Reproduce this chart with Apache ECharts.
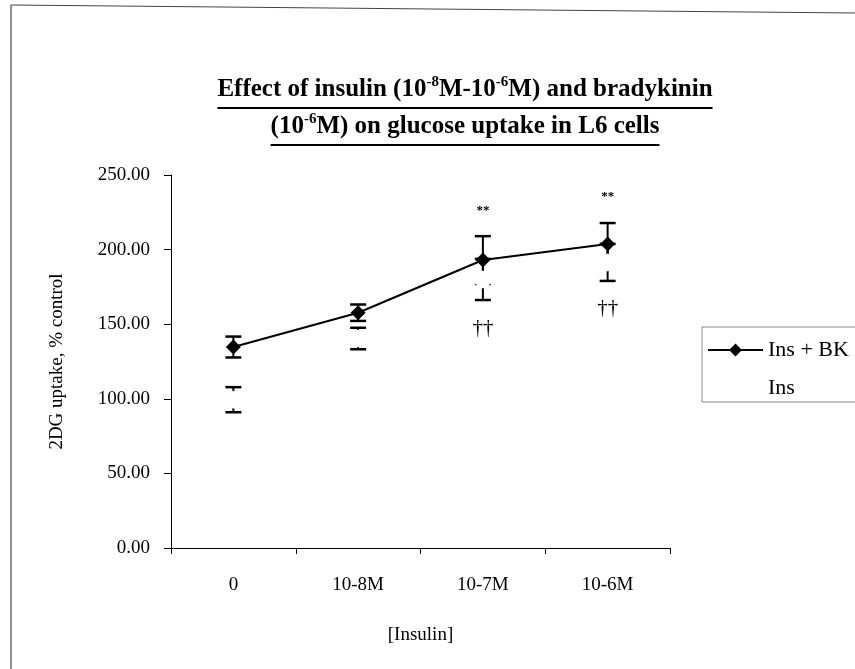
<!DOCTYPE html>
<html>
<head>
<meta charset="utf-8">
<script src="https://cdn.jsdelivr.net/npm/echarts@6/dist/echarts.min.js"></script>
<style>
  html, body { margin: 0; padding: 0; background: #fff; }
  #chart { width: 855px; height: 669px; }
</style>
</head>
<body>
<div id="chart"></div>
<script>
// Insulin concentrations on the category axis
const categories = ['0', '10-8M', '10-7M', '10-6M'];
// Insulin + bradykinin: mean 2DG uptake (% control) and error
const insBk = [134.7, 157.7, 193.0, 203.8];
const insBkErr = [7.0, 5.5, 16.0, 14.0];
// Insulin alone: mean and error
const ins = [99.4, 140.4, 180.0, 191.4];
const insErr = [8.4, 7.2, 13.8, 12.4];
// Significance marks
const insBkMarks = ['', '', '**', '**'];
const insMarks = ['', '', '††', '††'];

const SERIF = '"Liberation Serif", "Times New Roman", serif';

function errorItems(means, errs) {
  return means.map((m, i) => [i, m - errs[i], m + errs[i]]);
}

function errorRenderer(marks, above) {
  return function (params, api) {
    const i = api.value(0);
    const lo = api.coord([i, api.value(1)]);
    const hi = api.coord([i, api.value(2)]);
    const half = 8;
    const st = { stroke: '#000', lineWidth: 2 };
    const capSt = { stroke: '#000', lineWidth: 2.5 };
    const children = [
      { type: 'line', shape: { x1: hi[0], y1: hi[1], x2: lo[0], y2: lo[1] }, style: st },
      { type: 'line', shape: { x1: hi[0] - half, y1: hi[1], x2: hi[0] + half, y2: hi[1] }, style: capSt },
      { type: 'line', shape: { x1: lo[0] - half, y1: lo[1], x2: lo[0] + half, y2: lo[1] }, style: capSt }
    ];
    const mark = marks[params.dataIndex];
    if (mark) {
      children.push({
        type: 'text',
        x: hi[0] + (above ? 0 : 0),
        y: above ? hi[1] - 26 : lo[1] + 28,
        style: {
          text: mark,
          fill: '#000',
          font: (above ? 'bold 13px ' : '21px ') + SERIF,
          align: 'center',
          verticalAlign: 'middle'
        }
      });
    }
    return { type: 'group', children };
  };
}

// Title lines (rich text with superscripts) and their underline widths
const titleMain = 'bold 25px ' + SERIF;
const titleSup = 'bold 15px ' + SERIF;
const measureCtx = document.createElement('canvas').getContext('2d');
function widthOf(parts) {
  let w = 0;
  parts.forEach(([t, sup]) => {
    measureCtx.font = sup ? titleSup : titleMain;
    w += measureCtx.measureText(t).width;
  });
  return w;
}
const titleLine1 = [['Effect of insulin (10', 0], ['-8', 1], ['M-10', 0], ['-6', 1], ['M) and bradykinin', 0]];
const titleLine2 = [['(10', 0], ['-6', 1], ['M) on glucose uptake in L6 cells', 0]];
function richText(parts) {
  return parts.map(([t, sup]) => '{' + (sup ? 's' : 'm') + '|' + t + '}').join('');
}
const titleRich = {
  m: { font: titleMain, fill: '#000' },
  s: { font: titleSup, fill: '#000', padding: [0, 0, 15, 0] }
};
const titleCx = 465;
const w1 = widthOf(titleLine1);
const w2 = widthOf(titleLine2);

const chart = echarts.init(document.getElementById('chart'), null, { renderer: 'canvas' });

chart.setOption({
  backgroundColor: '#fff',
  animation: false,
  grid: { left: 171, right: 185, top: 175, bottom: 121 },
  legend: {
    orient: 'vertical',
    left: 702,
    top: 327,
    itemWidth: 55,
    itemHeight: 16,
    itemGap: 16,
    padding: [12, 40, 3, 5],
    borderColor: '#888',
    borderWidth: 1,
    data: ['Ins + BK', 'Ins'],
    textStyle: { fontFamily: SERIF, fontSize: 22, color: '#000' }
  },
  xAxis: {
    type: 'category',
    data: categories,
    boundaryGap: true,
    name: '[Insulin]',
    nameLocation: 'middle',
    nameGap: 78,
    nameTextStyle: { fontFamily: SERIF, fontSize: 19, color: '#000' },
    axisLine: { lineStyle: { color: '#000', width: 1 } },
    axisTick: { show: true, length: 6, alignWithLabel: false, lineStyle: { color: '#000' } },
    axisLabel: { margin: 28, fontFamily: SERIF, fontSize: 19, color: '#000' },
    splitLine: { show: false }
  },
  yAxis: {
    type: 'value',
    min: 0,
    max: 250,
    interval: 50,
    name: '2DG uptake, % control',
    nameLocation: 'middle',
    nameGap: 104,
    nameRotate: 90,
    nameTextStyle: { fontFamily: SERIF, fontSize: 19, color: '#000' },
    axisLine: { show: true, lineStyle: { color: '#000', width: 1 } },
    axisTick: { show: true, length: 7, inside: false, lineStyle: { color: '#000' } },
    axisLabel: {
      margin: 21,
      fontFamily: SERIF,
      fontSize: 19,
      color: '#000',
      formatter: v => v.toFixed(2)
    },
    splitLine: { show: false }
  },
  series: [
    {
      name: 'Ins + BK error',
      type: 'custom',
      z: 2,
      renderItem: errorRenderer(insBkMarks, true),
      data: errorItems(insBk, insBkErr),
      encode: { x: 0, y: [1, 2] },
      silent: true
    },
    {
      name: 'Ins error',
      type: 'custom',
      z: 2,
      renderItem: errorRenderer(insMarks, false),
      data: errorItems(ins, insErr),
      encode: { x: 0, y: [1, 2] },
      silent: true
    },
    {
      name: 'Ins',
      type: 'line',
      z: 4,
      data: ins,
      symbol: 'diamond',
      symbolSize: [30, 18],
      itemStyle: { color: '#fff', borderWidth: 0 },
      lineStyle: { color: '#fff', width: 2 }
    },
    {
      name: 'Ins + BK',
      type: 'line',
      z: 5,
      data: insBk,
      symbol: 'diamond',
      symbolSize: 15,
      itemStyle: { color: '#000' },
      lineStyle: { color: '#000', width: 2 }
    }
  ],
  graphic: [
    // outer frame edges
    { type: 'line', shape: { x1: 11, y1: 5, x2: 11, y2: 669 }, style: { stroke: '#444', lineWidth: 1.2 } },
    { type: 'line', shape: { x1: 11, y1: 5, x2: 855, y2: 13 }, style: { stroke: '#444', lineWidth: 1.2 } },
    // title
    {
      type: 'text', x: titleCx, y: 105,
      style: { text: richText(titleLine1), rich: titleRich, font: titleMain, align: 'center', verticalAlign: 'bottom' }
    },
    {
      type: 'text', x: titleCx, y: 142,
      style: { text: richText(titleLine2), rich: titleRich, font: titleMain, align: 'center', verticalAlign: 'bottom' }
    },
    { type: 'line', shape: { x1: titleCx - w1 / 2, y1: 108, x2: titleCx + w1 / 2, y2: 108 }, style: { stroke: '#000', lineWidth: 2 } },
    { type: 'line', shape: { x1: titleCx - w2 / 2, y1: 145, x2: titleCx + w2 / 2, y2: 145 }, style: { stroke: '#000', lineWidth: 2 } }
  ]
});
</script>
</body>
</html>
